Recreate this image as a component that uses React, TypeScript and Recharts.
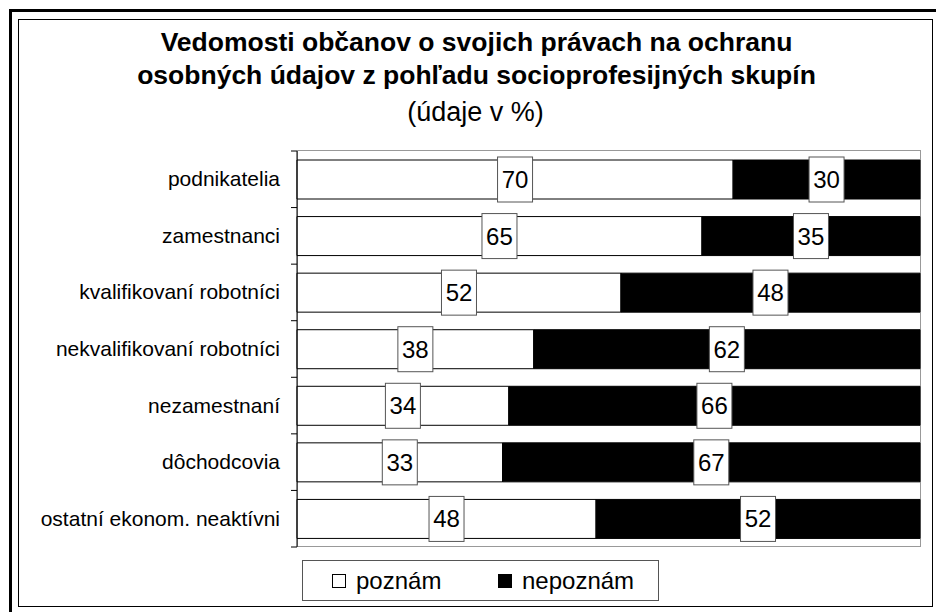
import React from 'react'
import { Bar, BarChart, LabelList, XAxis, YAxis } from 'recharts'

const categories = [
	'podnikatelia',
	'zamestnanci',
	'kvalifikovaní robotníci',
	'nekvalifikovaní robotníci',
	'nezamestnaní',
	'dôchodcovia',
	'ostatní ekonom. neaktívni',
]
const poznam = [70, 65, 52, 38, 34, 33, 48]
const nepoznam = [30, 35, 48, 62, 66, 67, 52]

const series = [
	{ key: 'poznam', name: 'poznám', fill: '#ffffff' },
	{ key: 'nepoznam', name: 'nepoznám', fill: '#000000' },
]

const data = categories.map((name, i) => ({
	name,
	poznam: poznam[i],
	nepoznam: nepoznam[i],
}))

const FONT = '"Liberation Sans", Arial, sans-serif'
const W = 936
const H = 612
const PLOT = { left: 297, top: 151, right: 920, bottom: 547 }
const BAND = (PLOT.bottom - PLOT.top) / categories.length

function CategoryTick(props: any) {
	const { y, payload, index } = props
	return (
		<g>
			<text
				x={PLOT.left - 17}
				y={y}
				dy={7}
				textAnchor='end'
				fontSize={21}
				fontFamily={FONT}
				fill='#000'
			>
				{payload.value}
			</text>
			<line x1={PLOT.left - 6} x2={PLOT.left} y1={y - BAND / 2} y2={y - BAND / 2} stroke='#000' />
			{index === categories.length - 1 && (
				<line x1={PLOT.left - 6} x2={PLOT.left} y1={y + BAND / 2} y2={y + BAND / 2} stroke='#000' />
			)}
		</g>
	)
}

function ValueBox(props: any) {
	const { x, y, width, height, value } = props
	const cx = x + width / 2
	const cy = y + height / 2
	return (
		<g>
			<rect x={cx - 17.5} y={cy - 22.5} width={35} height={45} fill='#fff' stroke='#555' />
			<text x={cx} y={cy} dy={8.5} textAnchor='middle' fontSize={24} fontFamily={FONT} fill='#000'>
				{value}
			</text>
		</g>
	)
}

export default function App() {
	return (
		<div style={{ position: 'absolute', left: 0, top: 0, width: W, height: H, background: '#fff', fontFamily: FONT, overflow: 'hidden' }}>
			{/* frames */}
			<div style={{ position: 'absolute', left: 9, top: 9, width: W, height: 3, background: '#000' }} />
			<div style={{ position: 'absolute', left: 9, top: 9, width: 3, height: H, background: '#000' }} />
			<div style={{ position: 'absolute', left: 18, top: 19, width: 915, height: 588, border: '1px solid #000', boxSizing: 'border-box' }} />
			<div style={{ position: 'absolute', left: 18, width: 917, top: 26, textAlign: 'center', fontWeight: 'bold', fontSize: 26.5, lineHeight: '33px' }}>
				Vedomosti občanov o svojich právach na ochranu
				<br />
				osobných údajov z pohľadu socioprofesijných skupín
			</div>
			<div style={{ position: 'absolute', left: 18, width: 915, top: 96, textAlign: 'center', fontSize: 27, lineHeight: '32px' }}>
				(údaje v %)
			</div>
			{/* plot area border */}
			<div
				style={{
					position: 'absolute',
					left: PLOT.left,
					top: PLOT.top - 1,
					width: PLOT.right - PLOT.left + 1,
					height: PLOT.bottom - PLOT.top + 1,
					border: '1px solid #999',
					boxSizing: 'border-box',
				}}
			/>
			<div style={{ position: 'absolute', left: 0, top: 0 }}>
				<BarChart
					width={W}
					height={H}
					data={data}
					layout='vertical'
					margin={{ top: PLOT.top, bottom: H - PLOT.bottom, left: 18, right: W - PLOT.right }}
					barSize={39}
				>
					<XAxis type='number' domain={[0, 100]} hide />
					<YAxis
						type='category'
						dataKey='name'
						width={PLOT.left - 18}
						axisLine={{ stroke: '#000' }}
						tickLine={false}
						tick={<CategoryTick />}
						interval={0}
					/>
					{series.map((s) => (
						<Bar
							key={s.key}
							dataKey={s.key}
							name={s.name}
							stackId='a'
							fill={s.fill}
							stroke='#000'
							strokeWidth={1}
							isAnimationActive={false}
						>
							<LabelList dataKey={s.key} content={<ValueBox />} />
						</Bar>
					))}
				</BarChart>
			</div>
			{/* legend */}
			<div
				style={{
					position: 'absolute',
					left: 302,
					top: 560,
					width: 357,
					height: 41,
					border: '1px solid #555',
					boxSizing: 'border-box',
					display: 'flex',
					alignItems: 'center',
					fontSize: 24,
				}}
			>
				{series.map((s, i) => (
					<div key={s.key} style={{ display: 'flex', alignItems: 'center', position: 'absolute', left: i === 0 ? 29 : 195 }}>
						<span style={{ display: 'inline-block', width: 14, height: 14, background: s.fill, border: '1px solid #000', boxSizing: 'border-box', marginRight: 10 }} />
						<span>{s.name}</span>
					</div>
				))}
			</div>
		</div>
	)
}
